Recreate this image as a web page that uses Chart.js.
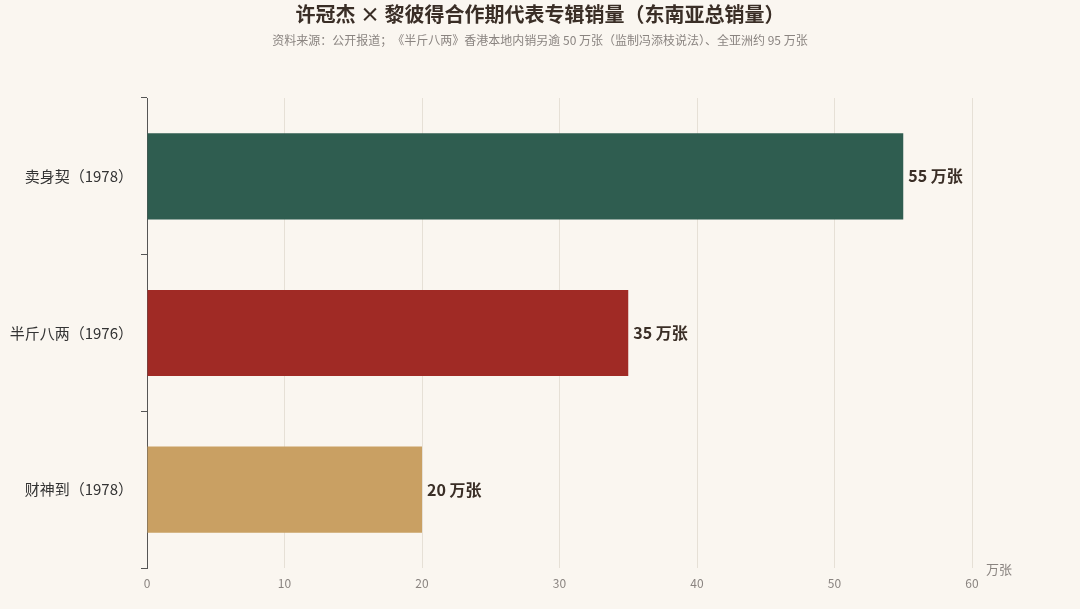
<!DOCTYPE html>
<html><head><meta charset="utf-8">
<script src="https://cdn.jsdelivr.net/npm/chart.js@4"></script>
<style>html,body{margin:0;padding:0;background:#faf6f0;}#w{width:1080px;height:609px;}</style>
</head><body><div id="w"><canvas id="c"></canvas></div>
<script>
const categories = ['卖身契（1978）', '半斤八两（1976）', '财神到（1978）'];
const sales = [55, 35, 20];
const barColors = ['#2f5d50', '#a02a25', '#c9a063'];
const xTicks = [0, 10, 20, 30, 40, 50, 60];
const FONT = '"Noto Sans CJK SC", "Noto Sans", sans-serif';

const deco = {
  id: 'deco',
  afterDraw(chart) {
    const ctx = chart.ctx, a = chart.chartArea;
    ctx.save();
    ctx.textAlign = 'center'; ctx.textBaseline = 'middle';
    ctx.fillStyle = '#3a2e26';
    ctx.font = 'bold 20px ' + FONT;
    ctx.fillText('许冠杰 × 黎彼得合作期代表专辑销量（东南亚总销量）', 540, 14);
    ctx.fillStyle = '#8a8480';
    ctx.font = '12px ' + FONT;
    ctx.fillText('资料来源：公开报道；《半斤八两》香港本地内销另逾 50 万张（监制冯添枝说法）、全亚洲约 95 万张', 540, 40);
    ctx.font = '13px ' + FONT;
    ctx.fillText('万张', 999, 569);
    const meta = chart.getDatasetMeta(0);
    ctx.textAlign = 'left';
    ctx.fillStyle = '#3a2e26';
    ctx.font = 'bold 16px ' + FONT;
    meta.data.forEach((b, i) => ctx.fillText(sales[i] + ' 万张', b.x + 5, b.y));
    ctx.restore();
  }
};

new Chart(document.getElementById('c'), {
  type: 'bar',
  data: { labels: categories, datasets: [{ data: sales, backgroundColor: barColors, categoryPercentage: 1, barPercentage: 0.55 }] },
  options: {
    indexAxis: 'y', responsive: true, maintainAspectRatio: false, animation: false,
    layout: { padding: { top: 98, right: 108, left: 0, bottom: 0 } },
    plugins: { legend: { display: false }, tooltip: { enabled: false } },
    scales: {
      x: {
        min: 0, max: 60,
        afterBuildTicks: s => { s.ticks = xTicks.map(v => ({ value: v })); },
        afterFit: s => { s.height = 41; },
        grid: { color: '#e6e0d6', drawTicks: false },
        border: { display: false },
        ticks: { color: '#8a8480', font: { size: 12, family: FONT }, padding: 8 }
      },
      y: {
        afterFit: s => { s.width = 147; },
        grid: { display: true, drawOnChartArea: false, offset: true, tickLength: 6, color: '#555' },
        border: { display: true, color: '#555' },
        ticks: { color: '#333', font: { size: 15, family: FONT }, padding: 8 }
      }
    }
  },
  plugins: [deco]
});
</script></body></html>
